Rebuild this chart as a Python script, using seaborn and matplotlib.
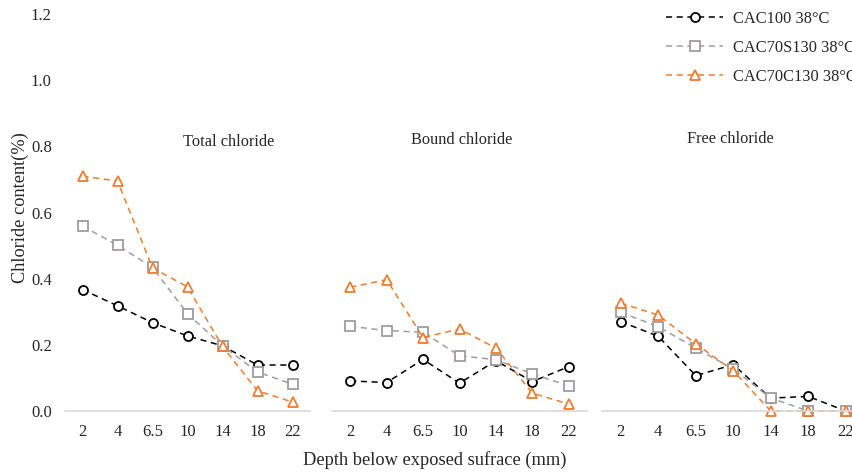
import matplotlib
matplotlib.use('Agg')
import numpy as np
import pandas as pd
import seaborn as sns
import matplotlib.pyplot as plt
from matplotlib.lines import Line2D

sns.set_style('white')
plt.rcParams['font.family'] = ['Liberation Serif', 'DejaVu Serif']

# ----------------------------- data -----------------------------
depths = ['2', '4', '6.5', '10', '14', '18', '22']
mixes = ['CAC100 38°C', 'CAC70S130 38°C', 'CAC70C130 38°C']
panels = ['Total chloride', 'Bound chloride', 'Free chloride']

total_cac100 = [0.367, 0.318, 0.267, 0.227, 0.197, 0.139, 0.139]
total_s130 = [0.559, 0.501, 0.434, 0.294, 0.197, 0.118, 0.081]
total_c130 = [0.710, 0.695, 0.433, 0.375, 0.195, 0.061, 0.027]

bound_cac100 = [0.091, 0.086, 0.156, 0.084, 0.152, 0.089, 0.134]
bound_s130 = [0.256, 0.243, 0.238, 0.167, 0.155, 0.112, 0.076]
bound_c130 = [0.374, 0.397, 0.222, 0.248, 0.190, 0.054, 0.021]

free_cac100 = [0.270, 0.226, 0.107, 0.140, 0.039, 0.044, 0.0]
free_s130 = [0.298, 0.255, 0.190, 0.127, 0.039, 0.0, 0.0]
free_c130 = [0.326, 0.290, 0.203, 0.122, 0.0, 0.0, 0.0]

panel_data = [
    [total_cac100, total_s130, total_c130],
    [bound_cac100, bound_s130, bound_c130],
    [free_cac100, free_s130, free_c130],
]

colors = ['#000000', '#A09C9C', '#ED7D31']
markers = ['o', 's', '^']
msizes = [6.5, 7, 7]

# ----------------------------- figure -----------------------------
W, H = 852, 474
fig = plt.figure(figsize=(W / 100, H / 100), dpi=100)

# axes boxes in pixels: left, right (third panel runs past the right edge, as in the source)
ax_px = [(65, 310), (332, 587), (602, 864.5)]
y_top, y_bot = 14, 411
axes = []
for i, (l, r) in enumerate(ax_px):
    ax = fig.add_axes([l / W, (H - y_bot) / H, (r - l) / W, (y_bot - y_top) / H])
    axes.append(ax)

# title positions inside each panel (category units, value units)
title_pos = [(4.17, 0.814), (3.07, 0.82), (2.93, 0.823)]

for i, ax in enumerate(axes):
    for j, vals in enumerate(panel_data[i]):
        df = pd.DataFrame({'pos': np.arange(len(depths)), 'value': vals})
        sns.lineplot(data=df, x='pos', y='value', ax=ax, color=colors[j],
                     marker=markers[j], markersize=msizes[j], markerfacecolor='white',
                     markeredgecolor=colors[j], markeredgewidth=1.3,
                     linestyle=(0, (4, 3)), linewidth=1.1, label=mixes[j],
                     legend=False, clip_on=False)
    ax.set_xlim(-0.5, 6.5)
    ax.set_ylim(0, 1.2)
    ax.set_xticks(range(len(depths)))
    ax.set_xticklabels(depths)
    ax.set_xlabel('')
    ax.set_ylabel('')
    ax.tick_params(axis='x', length=0, pad=9, labelsize=12)
    ax.tick_params(axis='y', length=0, pad=9.5, labelsize=12)
    ax.set_yticks(np.arange(0, 1.21, 0.2))
    if i == 0:
        ax.set_yticklabels([f'{v:.1f}' for v in np.arange(0, 1.21, 0.2)])
    else:
        ax.set_yticklabels([])
    for s in ['top', 'right', 'left']:
        ax.spines[s].set_visible(False)
    ax.spines['bottom'].set_color('#D9D9D9')
    ax.spines['bottom'].set_linewidth(1.2)
    ax.patch.set_alpha(0)
    tx, ty = title_pos[i]
    ax.text(tx, ty, panels[i], ha='center', va='center', fontsize=11.8)

fig.text(20.5 / W, 1 - 208 / H, 'Chloride content(%)', rotation=90,
         ha='center', va='center', fontsize=13.2)
fig.text(435 / W, 1 - 460 / H, 'Depth below exposed sufrace (mm)',
         ha='center', va='center', fontsize=13.2)

handles = [Line2D([], [], color=colors[j], marker=markers[j], markersize=msizes[j],
                  markerfacecolor='white', markeredgecolor=colors[j], markeredgewidth=1.3,
                  linestyle=(0, (4, 3)), linewidth=1.1) for j in range(3)]
fig.legend(handles, mixes, loc='upper left', bbox_to_anchor=(659.5 / W, 0.991),
           borderaxespad=0, frameon=False, fontsize=11.8, handlelength=3.5,
           handletextpad=0.6, labelspacing=0.8, numpoints=1)

plt.savefig('out.png', dpi=100)
